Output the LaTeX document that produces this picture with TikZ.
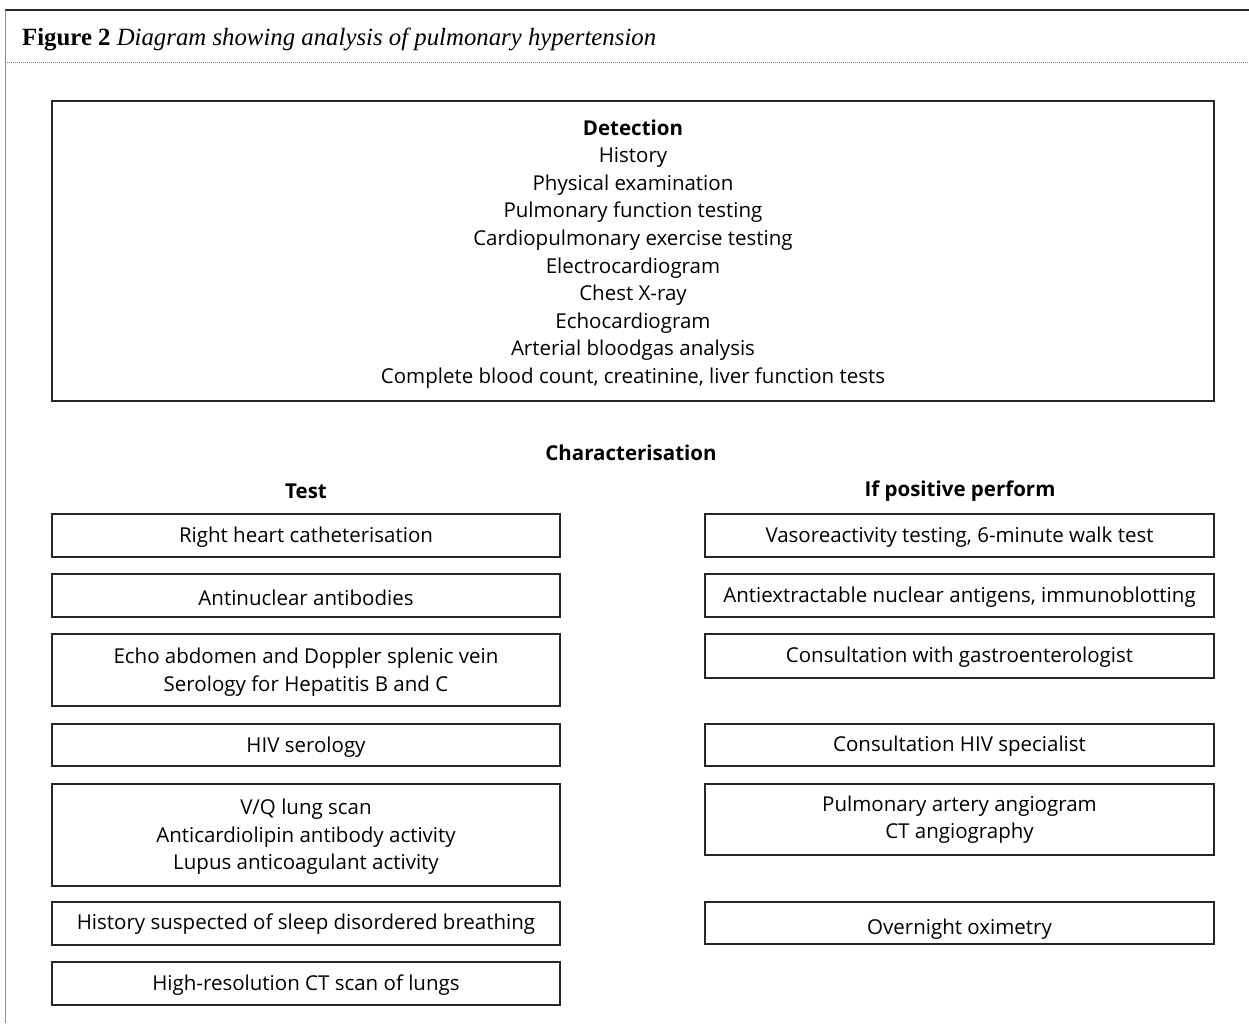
\documentclass[tikz,border=0pt]{standalone}
\usepackage{fontspec}
\setmainfont{Open Sans}
\newfontfamily\titlefont{Liberation Serif}
\begin{document}
\begin{tikzpicture}[x=1pt,y=-1pt,
  box/.style={draw=black!85,line width=1.5pt,inner sep=0pt},
  lbox/.style={box,minimum width=508pt},
  rbox/.style={box,minimum width=509pt},
  txt/.style={inner sep=0pt,align=center,font=\fontsize{20.5}{27.6}\selectfont},
  head/.style={font=\fontsize{20.5}{24}\selectfont\bfseries,inner sep=0pt}]
\useasboundingbox (0,0) rectangle (1249,1023);
% frame
\draw[black!85,line width=1.6pt] (5,10) -- (1249,10);
\draw[black!45,line width=1.4pt] (5.5,10) -- (5.5,1023);
\draw[black!50,line width=1pt,dash pattern=on 1pt off 1pt] (5,62) -- (1249,62);
\node[anchor=base west,inner sep=0pt,font=\titlefont\fontsize{24.8}{28}\selectfont] (title) at (22,45)
  {\textbf{Figure 2} \textit{Diagram showing analysis of pulmonary hypertension}};
% detection
\node[box,minimum width=1162pt,minimum height=300pt] (det) at (633,251) {};
\node[txt] (dett) at ([yshift=-3pt]det.center)
  {\textbf{Detection}\\History\\Physical examination\\Pulmonary function testing\\Cardiopulmonary exercise testing\\Electrocardiogram\\Chest X-ray\\Echocardiogram\\Arterial bloodgas analysis\\Complete blood count, creatinine, liver function tests};
\node[head] (char) at (631,453) {Characterisation};
\node[head] (test) at (306,491) {Test};
\node[head] (ifpos) at (960,491) {If positive perform};
% left column
\node[lbox,minimum height=43pt] (l1) at (306,535.5) {};
\node[lbox,minimum height=43pt] (l2) at (306,595.5) {};
\node[lbox,minimum height=72pt] (l3) at (306,670) {};
\node[lbox,minimum height=42pt] (l4) at (306,745) {};
\node[lbox,minimum height=102pt] (l5) at (306,835) {};
\node[lbox,minimum height=43pt] (l6) at (306,923.5) {};
\node[lbox,minimum height=43pt] (l7) at (306,983.5) {};
\node[txt] (l1t) at ([yshift=-2pt]l1.center) {Right heart catheterisation};
\node[txt] (l2t) at ([yshift=-2pt]l2.center) {Antinuclear antibodies};
\node[txt] (l3t) at ([yshift=-2pt]l3.center) {Echo abdomen and Doppler splenic vein\\Serology for Hepatitis B and C};
\node[txt] (l4t) at ([yshift=-2pt]l4.center) {HIV serology};
\node[txt] (l5t) at ([yshift=-2pt]l5.center) {V/Q lung scan\\Anticardiolipin antibody activity\\Lupus anticoagulant activity};
\node[txt] (l6t) at ([yshift=-1pt]l6.center) {History suspected of sleep disordered breathing};
\node[txt] (l7t) at ([yshift=-2pt]l7.center) {High-resolution CT scan of lungs};
% right column
\node[rbox,minimum height=43pt] (r1) at (959.5,535.5) {};
\node[rbox,minimum height=43pt] (r2) at (959.5,595.5) {};
\node[rbox,minimum height=44pt] (r3) at (959.5,656) {};
\node[rbox,minimum height=42pt] (r4) at (959.5,745) {};
\node[rbox,minimum height=71pt] (r5) at (959.5,819.5) {};
\node[rbox,minimum height=42pt] (r6) at (959.5,923) {};
\node[txt] (r1t) at ([yshift=-2pt]r1.center) {Vasoreactivity testing, 6-minute walk test};
\node[txt] (r2t) at ([yshift=-2pt]r2.center) {Antiextractable nuclear antigens, immunoblotting};
\node[txt] (r3t) at ([yshift=-1pt]r3.center) {Consultation with gastroenterologist};
\node[txt] (r4t) at ([yshift=-1pt]r4.center) {Consultation HIV specialist};
\node[txt] (r5t) at ([yshift=0pt]r5.center) {Pulmonary artery angiogram\\CT angiography};
\node[txt] (r6t) at ([yshift=-6pt]r6.center) {Overnight oximetry};
\end{tikzpicture}
\end{document}
